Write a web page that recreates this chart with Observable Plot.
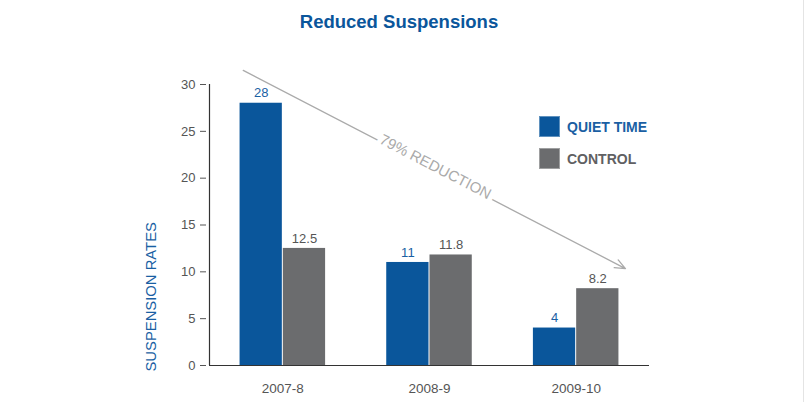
<!DOCTYPE html>
<html>
<head>
<meta charset="utf-8">
<script src="https://cdn.jsdelivr.net/npm/d3@7"></script>
<script src="https://cdn.jsdelivr.net/npm/@observablehq/plot@0.6"></script>
<style>
  html, body { margin: 0; padding: 0; background: #fff; }
  body { font-family: "Liberation Sans", Arial, Helvetica, sans-serif; }
  #wrap { position: relative; width: 804px; height: 402px; overflow: hidden; }
  #title { position: absolute; left: 0; top: 0; width: 798px; height: 44px; line-height: 44px;
           text-align: center; font-size: 18.5px; font-weight: bold; color: #0a569b; }
  #chart { position: absolute; left: 0; top: 44px; }
  .leg { position: absolute; left: 539px; display: flex; align-items: center; }
  .leg .sw { width: 21px; height: 21px; margin-right: 7px; box-sizing: border-box; border: 1px solid rgba(255,255,255,0.35); }
  .leg .lb { font-size: 14px; font-weight: bold; }
  #edge { position: absolute; left: 803px; top: 0; width: 1px; height: 402px; background: #e4e4e4; }
</style>
</head>
<body>
<div id="wrap">
  <div id="title">Reduced Suspensions</div>
  <div id="chart"></div>
  <div id="legend"></div>
  <div id="edge"></div>
</div>
<script>
// ---- data ----
const years = ["2007-8", "2008-9", "2009-10"];
const quietTime = [28, 11, 4];
const control = [12.5, 11.8, 8.2];
const seriesNames = ["QUIET TIME", "CONTROL"];
const seriesColors = ["#0a569b", "#6b6c6e"];
const labelColors = ["#1a5fa3", "#555555"];
const yTicks = [0, 5, 10, 15, 20, 25, 30];
const yLabel = "SUSPENSION RATES";
const arrowAnnotation = [{x1: -0.27, y1: 31.5, x2: 2.336, y2: 10.35}];
const arrowText = [{x: 1.04, y: 21.2, label: "79% REDUCTION"}];

// ---- build table ----
const barW = 0.295; // bar width as a fraction of the year spacing
const rows = years.flatMap((year, i) => [
  {year, i, s: 0, series: seriesNames[0], value: quietTime[i]},
  {year, i, s: 1, series: seriesNames[1], value: control[i]}
]);

const font = '"Liberation Sans", Arial, Helvetica, sans-serif';

const chart = Plot.plot({
  width: 804,
  height: 358,
  marginLeft: 209,
  marginRight: 155,
  marginTop: 40,
  marginBottom: 37,
  style: {fontFamily: font, background: "transparent", overflow: "visible"},
  x: {type: "linear", domain: [-0.5, 2.5], axis: null},
  y: {domain: [0, 30], axis: null, label: null},
  marks: [
    Plot.rectY(rows, {
      x1: d => d.s === 0 ? d.i - barW : d.i,
      x2: d => d.s === 0 ? d.i : d.i + barW,
      y1: 0,
      y2: "value",
      fill: d => seriesColors[d.s],
      insetLeft: 0.5,
      insetRight: 0.5
    }),
    Plot.text(rows.filter(d => d.s === 0), {
      x: d => d.i - barW / 2,
      y: "value",
      text: d => String(d.value),
      dy: -10,
      fill: labelColors[0],
      fontSize: 13
    }),
    Plot.text(rows.filter(d => d.s === 1), {
      x: d => d.i + barW / 2,
      y: "value",
      text: d => String(d.value),
      dy: -10,
      fill: labelColors[1],
      fontSize: 13
    }),
    Plot.ruleX([-0.5], {y1: 0, y2: 30, stroke: "#333", strokeWidth: 1.2}),
    Plot.ruleY([0], {stroke: "#333", strokeWidth: 1.2}),
    Plot.axisY(yTicks, {tickSize: 6, tickPadding: 5, dx: -3, fontSize: 13, color: "#555"}),
    Plot.axisX([0, 1, 2], {tickSize: 0, tickPadding: 18, tickFormat: i => years[i], fontSize: 13.5, color: "#555"}),
    Plot.text([yLabel], {
      frameAnchor: "bottom-left",
      text: d => d,
      rotate: -90,
      textAnchor: "start",
      dx: -54,
      dy: 6,
      fontSize: 14.8,
      fill: "#1a5fa3"
    }),
    Plot.arrow(arrowAnnotation, {
      x1: "x1", y1: "y1", x2: "x2", y2: "y2",
      stroke: "#aaaaaa",
      strokeWidth: 1.3,
      headLength: 13,
      headAngle: 45
    }),
    Plot.text(arrowText, {
      x: "x", y: "y", text: "label",
      rotate: 27.4,
      fontSize: 15,
      fill: "#aaaaaa",
      stroke: "white",
      strokeWidth: 10,
      paintOrder: "stroke"
    })
  ]
});
document.getElementById("chart").appendChild(chart);

// ---- legend ----
const legend = document.getElementById("legend");
seriesNames.forEach((name, k) => {
  const item = document.createElement("div");
  item.className = "leg";
  item.style.top = (116 + k * 32) + "px";
  item.innerHTML = `<div class="sw" style="background:${seriesColors[k]}"></div><span class="lb" style="color:${k === 0 ? labelColors[0] : "#606062"}">${name}</span>`;
  legend.appendChild(item);
});
</script>
</body>
</html>
